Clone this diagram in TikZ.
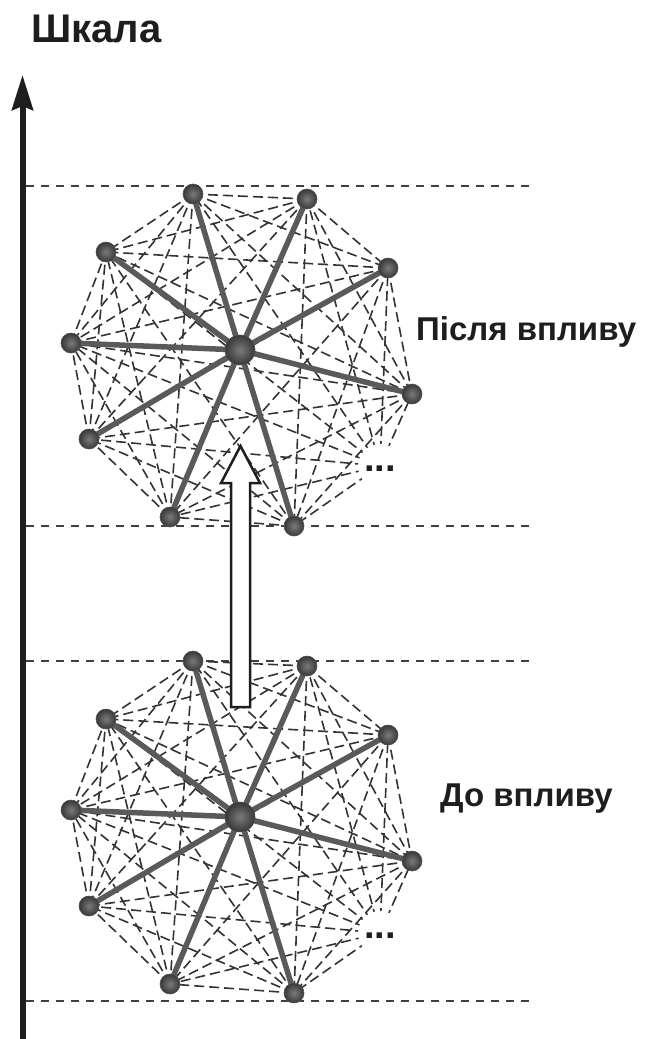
\documentclass[tikz,border=0pt]{standalone}
\usepackage{fontspec}
\setmainfont{Liberation Sans}
\usetikzlibrary{arrows.meta}

\definecolor{spoke}{HTML}{5A5A5A}
\definecolor{mesh}{HTML}{333333}
\definecolor{ink}{HTML}{1E1E1E}

\tikzset{
  mesh/.style={draw=mesh, line width=1.6pt, dash pattern=on 10pt off 5pt},
  spokeline/.style={draw=spoke, line width=5.5pt},
  level/.style={draw=ink!85, line width=1.8pt, dash pattern=on 8pt off 7pt},
  outer/.style={circle, minimum size=20pt, inner sep=0pt, shade,
    inner color=black!52, outer color=black!78, draw=black!68, line width=0.6pt},
  hub/.style={outer, minimum size=30pt},
  caption/.style={font=\bfseries\fontsize{33}{40}\selectfont, text=ink,
    anchor=base west, inner sep=0pt},
  dots/.style={font=\bfseries\fontsize{38}{40}\selectfont, text=ink,
    anchor=base, inner sep=0pt},
  hollowarrow/.style={draw=ink, fill=white, line width=2.5pt, line join=miter},
}

% A hub with nine visible outer vertices; vertex 0 is left out and marked by dots.
% #1 name prefix, #2 vertical offset
\newcommand\meshgraph[2]{%
  \foreach \n/\x/\y in {1/193/194, 2/307/199, 3/388/268, 4/412/394,
                        5/294/526, 6/170/517, 7/89/439, 8/71/343,
                        9/106/252, 0/380/466}
    \coordinate (#1\n) at (\x,{\y+#2});
  \coordinate (#1c) at (240,{350+#2});
  % complete graph on the rim
  \foreach \i in {0,...,8}{%
    \pgfmathtruncatemacro\s{\i+1}%
    \foreach \j in {\s,...,9}
      \draw[mesh] (#1\i) -- (#1\j);
  }
  \fill[white] (#10) circle (22pt);
  \node[dots] (#1dots) at (380,{471+#2}) {...};
  % spokes from the hub
  \foreach \i in {1,...,9}
    \draw[spokeline] (#1c) -- (#1\i);
  \foreach \i in {1,...,9}
    \node[outer] (#1v\i) at (#1\i) {};
  \node[hub] (#1hub) at (#1c) {};
}

\begin{document}
\begin{tikzpicture}[x=1pt, y=-1pt]
  \useasboundingbox (0,0) rectangle (648,1039);

  % level guides
  \foreach \k/\y in {a/186, b/526, c/661, d/1001}{
    \coordinate (lv\k l) at (26,\y);
    \coordinate (lv\k r) at (530,\y);
    \draw[level] (lv\k l) -- (lv\k r);
  }

  % scale axis
  \coordinate (axisfoot) at (22.5,1039);
  \coordinate (axistip) at (22.5,75);
  \draw[ink, line width=6pt, -{Stealth[length=35pt, width=21pt, inset=4pt]}]
    (axisfoot) -- (axistip);
  \node[caption, font=\bfseries\fontsize{40}{44}\selectfont] (scale) at (31,42) {Шкала};

  \meshgraph{u}{0}
  \meshgraph{l}{467}

  \node[caption] (after) at (416,340) {Після впливу};
  \node[caption] (before) at (440,806) {До впливу};

  % transition arrow
  \draw[hollowarrow] (231,707) -- (231,483) -- (221,483) -- (240.5,446)
    -- (260,483) -- (250,483) -- (250,707) -- cycle;
\end{tikzpicture}
\end{document}
